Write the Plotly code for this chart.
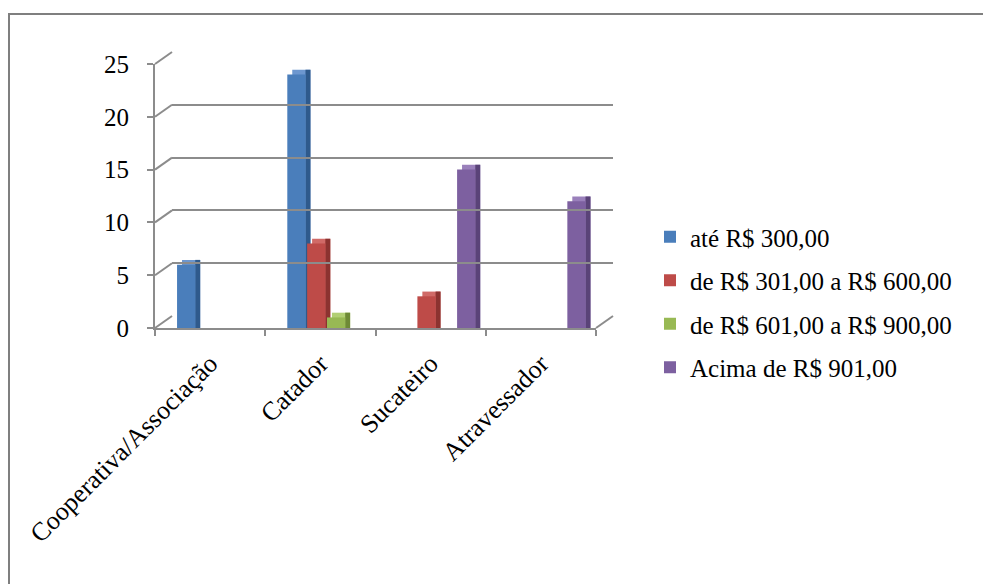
import plotly.graph_objects as go

categories = ["Cooperativa/Associação", "Catador", "Sucateiro", "Atravessador"]
series_names = ["até R$ 300,00", "de R$ 301,00 a R$ 600,00",
                "de R$ 601,00 a R$ 900,00", "Acima de R$ 901,00"]
ate_300 = [6, 24, None, None]
de_301_600 = [None, 8, 3, None]
de_601_900 = [None, 1, None, None]
acima_901 = [None, None, 15, 12]
series_values = [ate_300, de_301_600, de_601_900, acima_901]
y_ticks = [0, 5, 10, 15, 20, 25]

face_colors = ["#4a7ebb", "#be4b48", "#98b954", "#7d60a0"]
top_colors = ["#6d97cf", "#d06a67", "#b2cf74", "#9a80bb"]
side_colors = ["#2f5a8c", "#8c3330", "#6e8a36", "#5a4378"]

W_PX, H_PX = 983, 584
L, R, T, B = 155, 613, 52, 328          # paper region in pixels
PW, PH = R - L, B - T
DX, DY = 17, 12                          # 3D back-wall offset in pixels
SERIF = "Liberation Serif"


def px_x(p):
    return (p - L) / PW


def px_y(p):
    return (B - p) / PH


main_xdom = [0, px_x(R - DX)]
main_ydom = [0, px_y(T + DY)]
back_xdom = [px_x(L + DX), 1]
back_ydom = [px_y(B - DY), 1]

SLOT, FACE, DEPTH_X, DEPTH_Y = 0.18, 0.165, 0.045, 0.45

fig = go.Figure()
for i, (name, vals) in enumerate(zip(series_names, series_values)):
    base = -0.30 + SLOT * i
    back_vals = [None if v is None else v + DEPTH_Y for v in vals]
    grp = f"g{i}"
    fig.add_trace(go.Bar(x=categories, y=back_vals, offset=base + DEPTH_X, width=FACE,
                         marker=dict(color=top_colors[i], line=dict(width=0)),
                         showlegend=False, legendgroup=grp, hoverinfo="skip"))
    fig.add_trace(go.Bar(x=categories, y=back_vals, offset=base + FACE, width=DEPTH_X,
                         marker=dict(color=side_colors[i], line=dict(width=0)),
                         showlegend=False, legendgroup=grp, hoverinfo="skip"))
    fig.add_trace(go.Bar(x=categories, y=vals, offset=base, width=FACE, name=name,
                         marker=dict(color=face_colors[i], line=dict(width=0)),
                         legendgroup=grp))

# invisible trace for the back wall axes
fig.add_trace(go.Scatter(x=[0], y=[0], xaxis="x2", yaxis="y2", mode="markers",
                         marker=dict(opacity=0), showlegend=False, hoverinfo="skip"))

grid_col = "#8c8c8c"

shapes = []
# diagonal connectors from front y-axis to the back wall
for v in y_ticks:
    yf = main_ydom[0] + v / 25 * (main_ydom[1] - main_ydom[0])
    yb = back_ydom[0] + v / 25 * (back_ydom[1] - back_ydom[0])
    shapes.append(dict(type="line", xref="paper", yref="paper", x0=0, y0=yf,
                       x1=back_xdom[0], y1=yb, line=dict(color=grid_col, width=2)))
# floor right edge
shapes.append(dict(type="line", xref="paper", yref="paper", x0=main_xdom[1], y0=0,
                   x1=1, y1=back_ydom[0], line=dict(color=grid_col, width=2)))
# outer frame (top and left edges)
shapes.append(dict(type="line", xref="paper", yref="paper", x0=px_x(8), y0=px_y(14),
                   x1=px_x(W_PX + 5), y1=px_y(14), line=dict(color="#7f7f7f", width=2)))
shapes.append(dict(type="line", xref="paper", yref="paper", x0=px_x(9), y0=px_y(14),
                   x1=px_x(9), y1=px_y(H_PX + 5), line=dict(color="#7f7f7f", width=2)))

fig.update_layout(
    width=W_PX, height=H_PX,
    margin=dict(l=L, r=W_PX - R, t=T, b=H_PX - B, autoexpand=False),
    paper_bgcolor="white", plot_bgcolor="rgba(0,0,0,0)",
    barmode="overlay",
    font=dict(family=SERIF, color="black", size=24),
    hovermode=False,
    xaxis=dict(domain=main_xdom, type="category", categoryorder="array",
               categoryarray=categories, tickson="boundaries", ticks="outside",
               ticklen=6, tickcolor=grid_col, tickwidth=2, showline=True,
               linecolor=grid_col, linewidth=2, showgrid=False, tickangle=-45,
               tickfont=dict(family=SERIF, size=26, color="black"),
               ticklabelstandoff=8, anchor="y", zeroline=False),
    yaxis=dict(domain=main_ydom, range=[0, 25], tickvals=y_ticks, ticks="outside",
               ticklen=6, tickcolor=grid_col, tickwidth=2, showline=True,
               linecolor=grid_col, linewidth=2, showgrid=False, zeroline=False,
               tickfont=dict(family=SERIF, size=25, color="black"),
               ticklabelstandoff=13, anchor="x"),
    xaxis2=dict(domain=back_xdom, range=[0, 1], visible=False, anchor="y2"),
    yaxis2=dict(domain=back_ydom, range=[0, 25], tickvals=y_ticks, showgrid=True,
                gridcolor=grid_col, gridwidth=2, showticklabels=False, ticks="",
                zeroline=False, showline=False, anchor="x2"),
    legend=dict(x=px_x(650), y=px_y(214), xanchor="left", yanchor="top",
                font=dict(family=SERIF, size=25, color="black"),
                tracegroupgap=8, bgcolor="rgba(0,0,0,0)"),
    shapes=shapes,
)

fig.write_html("out.html")
